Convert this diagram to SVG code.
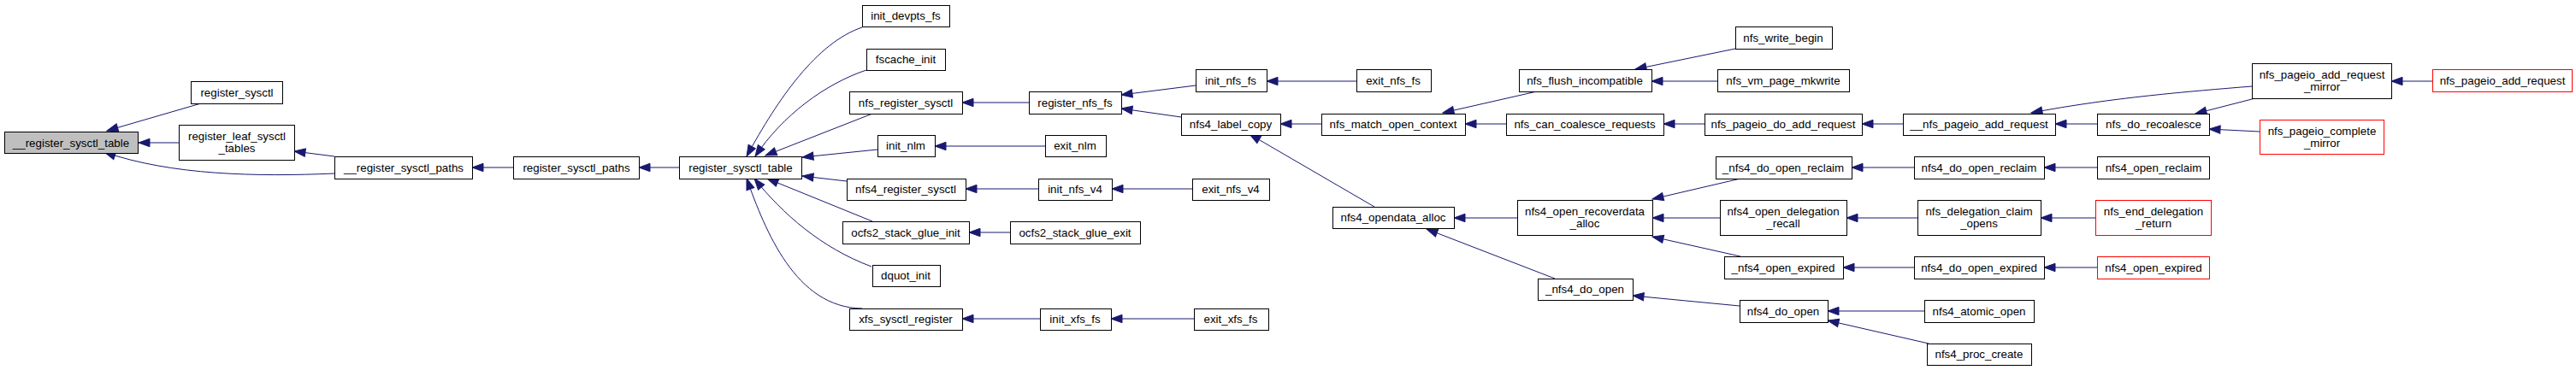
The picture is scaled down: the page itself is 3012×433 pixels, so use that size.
<svg xmlns="http://www.w3.org/2000/svg" width="3012" height="433" viewBox="0 0 3012 433">
<style>
.node rect{fill:#ffffff;stroke:#000000;stroke-width:1}
.node.red rect{stroke:#ff0000}
.node.root rect{fill:#bfbfbf}
.node text{font-family:"Liberation Sans",Arial,sans-serif;font-size:13.33px;text-anchor:middle;fill:#000000}
#edges path{fill:none;stroke:#191970;stroke-width:1;marker-end:url(#ah)}
</style>
<defs>
<marker id="ah" markerUnits="userSpaceOnUse" markerWidth="14" markerHeight="10" refX="13" refY="5" orient="auto" overflow="visible">
<path d="M0,0.3 L13,5 L0,9.7 Z" fill="#191970" stroke="#191970" stroke-width="1"/>
</marker>
</defs>
<rect width="3012" height="433" fill="#ffffff"/>
<g id="edges">
<path d="M235,121 L125,153"/>
<path d="M209,167 L162,167"/>
<path d="M391,203 C300,207 200,205 122,178"/>
<path d="M391,183 L344,177"/>
<path d="M600,196 L552,196"/>
<path d="M794,196 L747,196"/>
<path d="M1008,32 C955,50 910,115 873,183"/>
<path d="M1013,82 C965,98 915,135 883,183"/>
<path d="M1020,133 L895,182"/>
<path d="M1026,175 L938,184"/>
<path d="M990,212 L938,206"/>
<path d="M1020,259 L897,209"/>
<path d="M1019,312 C960,290 915,250 882,209"/>
<path d="M1008,361 C930,360 895,270 873,209"/>
<path d="M1203,120 L1125,120"/>
<path d="M1398,100 L1311,111"/>
<path d="M1381,137 L1311,127"/>
<path d="M1222,171 L1093,171"/>
<path d="M1214,221 L1129,221"/>
<path d="M1394,221 L1300,221"/>
<path d="M1181,272 L1133,272"/>
<path d="M1216,373 L1125,373"/>
<path d="M1396,373 L1299,373"/>
<path d="M1586,95 L1481,95"/>
<path d="M1545,145 L1497,145"/>
<path d="M1607,242 L1461,157"/>
<path d="M1797,107 L1687,132"/>
<path d="M1761,145 L1713,145"/>
<path d="M1774,255 L1700,255"/>
<path d="M1818,326 L1668,268"/>
<path d="M2029,57 L1912,81"/>
<path d="M2008,95 L1931,95"/>
<path d="M1993,145 L1945,145"/>
<path d="M2035,209 L1932,233"/>
<path d="M2011,255 L1932,255"/>
<path d="M2035,300 L1932,277"/>
<path d="M2034,358 L1909,346"/>
<path d="M2225,145 L2177,145"/>
<path d="M2633,101 C2560,107 2470,114 2375,132"/>
<path d="M2452,145 L2403,145"/>
<path d="M2238,196 L2165,196"/>
<path d="M2242,255 L2159,255"/>
<path d="M2238,313 L2155,313"/>
<path d="M2250,364 L2137,364"/>
<path d="M2255,402 L2137,375"/>
<path d="M2637,115 L2567,133"/>
<path d="M2642,154 L2583,151"/>
<path d="M2452,196 L2390,196"/>
<path d="M2450,255 L2386,255"/>
<path d="M2452,313 L2390,313"/>
<path d="M2844,95 L2796,95"/>
</g>
<g id="n_register_sysctl_table_root" class="node root"><rect x="5.5" y="154.5" width="156" height="25"/><text x="83" y="171.5">__register_sysctl_table</text></g>
<g id="n_register_sysctl" class="node"><rect x="223.5" y="95.5" width="107" height="26"/><text x="277" y="112.5">register_sysctl</text></g>
<g id="n_register_leaf_sysctl_tables" class="node"><rect x="209.5" y="146.5" width="135" height="41"/><text x="277" y="164">register_leaf_sysctl</text><text x="277" y="178">_tables</text></g>
<g id="n___register_sysctl_paths" class="node"><rect x="391.5" y="183.5" width="161" height="26"/><text x="472" y="200.5">__register_sysctl_paths</text></g>
<g id="n_register_sysctl_paths" class="node"><rect x="600.5" y="183.5" width="147" height="26"/><text x="674" y="200.5">register_sysctl_paths</text></g>
<g id="n_register_sysctl_table" class="node"><rect x="794.5" y="183.5" width="143" height="26"/><text x="866" y="200.5">register_sysctl_table</text></g>
<g id="n_init_devpts_fs" class="node"><rect x="1008.5" y="6.5" width="102" height="25"/><text x="1059" y="23">init_devpts_fs</text></g>
<g id="n_fscache_init" class="node"><rect x="1013.5" y="57.5" width="92" height="25"/><text x="1059" y="74">fscache_init</text></g>
<g id="n_nfs_register_sysctl" class="node"><rect x="993.5" y="107.5" width="132" height="26"/><text x="1059" y="124.5">nfs_register_sysctl</text></g>
<g id="n_init_nlm" class="node"><rect x="1026.5" y="158.5" width="67" height="25"/><text x="1059" y="175">init_nlm</text></g>
<g id="n_nfs4_register_sysctl" class="node"><rect x="990.5" y="209.5" width="139" height="25"/><text x="1059" y="226">nfs4_register_sysctl</text></g>
<g id="n_ocfs2_stack_glue_init" class="node"><rect x="985.5" y="259.5" width="148" height="26"/><text x="1059" y="276.5">ocfs2_stack_glue_init</text></g>
<g id="n_dquot_init" class="node"><rect x="1020.5" y="310.5" width="79" height="25"/><text x="1059" y="327">dquot_init</text></g>
<g id="n_xfs_sysctl_register" class="node"><rect x="993.5" y="361.5" width="132" height="25"/><text x="1059" y="378">xfs_sysctl_register</text></g>
<g id="n_register_nfs_fs" class="node"><rect x="1203.5" y="107.5" width="108" height="26"/><text x="1257" y="124.5">register_nfs_fs</text></g>
<g id="n_exit_nlm" class="node"><rect x="1222.5" y="158.5" width="71" height="25"/><text x="1257" y="175">exit_nlm</text></g>
<g id="n_init_nfs_v4" class="node"><rect x="1214.5" y="209.5" width="86" height="25"/><text x="1257" y="226">init_nfs_v4</text></g>
<g id="n_ocfs2_stack_glue_exit" class="node"><rect x="1181.5" y="259.5" width="152" height="26"/><text x="1257" y="276.5">ocfs2_stack_glue_exit</text></g>
<g id="n_init_xfs_fs" class="node"><rect x="1216.5" y="361.5" width="83" height="25"/><text x="1257" y="378">init_xfs_fs</text></g>
<g id="n_init_nfs_fs" class="node"><rect x="1398.5" y="81.5" width="83" height="26"/><text x="1439" y="98.5">init_nfs_fs</text></g>
<g id="n_nfs4_label_copy" class="node"><rect x="1381.5" y="133.5" width="116" height="25"/><text x="1439" y="150">nfs4_label_copy</text></g>
<g id="n_exit_nfs_v4" class="node"><rect x="1394.5" y="209.5" width="90" height="25"/><text x="1439" y="226">exit_nfs_v4</text></g>
<g id="n_exit_xfs_fs" class="node"><rect x="1396.5" y="361.5" width="87" height="25"/><text x="1439" y="378">exit_xfs_fs</text></g>
<g id="n_exit_nfs_fs" class="node"><rect x="1586.5" y="81.5" width="87" height="26"/><text x="1629" y="98.5">exit_nfs_fs</text></g>
<g id="n_nfs_match_open_context" class="node"><rect x="1545.5" y="133.5" width="168" height="25"/><text x="1629" y="150">nfs_match_open_context</text></g>
<g id="n_nfs4_opendata_alloc" class="node"><rect x="1558.5" y="242.5" width="142" height="25"/><text x="1629" y="259">nfs4_opendata_alloc</text></g>
<g id="n_nfs_flush_incompatible" class="node"><rect x="1776.5" y="81.5" width="155" height="26"/><text x="1853" y="98.5">nfs_flush_incompatible</text></g>
<g id="n_nfs_can_coalesce_requests" class="node"><rect x="1761.5" y="133.5" width="184" height="25"/><text x="1853" y="150">nfs_can_coalesce_requests</text></g>
<g id="n_nfs4_open_recoverdata_alloc" class="node"><rect x="1774.5" y="234.5" width="158" height="41"/><text x="1853" y="252">nfs4_open_recoverdata</text><text x="1853" y="266">_alloc</text></g>
<g id="n__nfs4_do_open" class="node"><rect x="1798.5" y="326.5" width="111" height="25"/><text x="1853" y="343">_nfs4_do_open</text></g>
<g id="n_nfs_write_begin" class="node"><rect x="2029.5" y="31.5" width="113" height="26"/><text x="2085" y="48.5">nfs_write_begin</text></g>
<g id="n_nfs_vm_page_mkwrite" class="node"><rect x="2008.5" y="81.5" width="154" height="26"/><text x="2085" y="98.5">nfs_vm_page_mkwrite</text></g>
<g id="n_nfs_pageio_do_add_request" class="node"><rect x="1993.5" y="133.5" width="184" height="25"/><text x="2085" y="150">nfs_pageio_do_add_request</text></g>
<g id="n__nfs4_do_open_reclaim" class="node"><rect x="2006.5" y="183.5" width="159" height="26"/><text x="2085" y="200.5">_nfs4_do_open_reclaim</text></g>
<g id="n_nfs4_open_delegation_recall" class="node"><rect x="2011.5" y="234.5" width="148" height="41"/><text x="2085" y="252">nfs4_open_delegation</text><text x="2085" y="266">_recall</text></g>
<g id="n__nfs4_open_expired" class="node"><rect x="2016.5" y="300.5" width="139" height="26"/><text x="2085" y="317.5">_nfs4_open_expired</text></g>
<g id="n_nfs4_do_open" class="node"><rect x="2034.5" y="351.5" width="103" height="26"/><text x="2085" y="368.5">nfs4_do_open</text></g>
<g id="n___nfs_pageio_add_request" class="node"><rect x="2225.5" y="133.5" width="178" height="25"/><text x="2314" y="150">__nfs_pageio_add_request</text></g>
<g id="n_nfs4_do_open_reclaim" class="node"><rect x="2238.5" y="183.5" width="152" height="26"/><text x="2314" y="200.5">nfs4_do_open_reclaim</text></g>
<g id="n_nfs_delegation_claim_opens" class="node"><rect x="2242.5" y="234.5" width="144" height="41"/><text x="2314" y="252">nfs_delegation_claim</text><text x="2314" y="266">_opens</text></g>
<g id="n_nfs4_do_open_expired" class="node"><rect x="2238.5" y="300.5" width="152" height="26"/><text x="2314" y="317.5">nfs4_do_open_expired</text></g>
<g id="n_nfs4_atomic_open" class="node"><rect x="2250.5" y="351.5" width="128" height="26"/><text x="2314" y="368.5">nfs4_atomic_open</text></g>
<g id="n_nfs4_proc_create" class="node"><rect x="2253.5" y="402.5" width="122" height="25"/><text x="2314" y="419">nfs4_proc_create</text></g>
<g id="n_nfs_do_recoalesce" class="node"><rect x="2452.5" y="133.5" width="131" height="25"/><text x="2518" y="150">nfs_do_recoalesce</text></g>
<g id="n_nfs4_open_reclaim" class="node"><rect x="2452.5" y="183.5" width="131" height="26"/><text x="2518" y="200.5">nfs4_open_reclaim</text></g>
<g id="n_nfs_end_delegation_return" class="node red"><rect x="2450.5" y="234.5" width="135" height="41"/><text x="2518" y="252">nfs_end_delegation</text><text x="2518" y="266">_return</text></g>
<g id="n_nfs4_open_expired" class="node red"><rect x="2452.5" y="300.5" width="131" height="26"/><text x="2518" y="317.5">nfs4_open_expired</text></g>
<g id="n_nfs_pageio_add_request_mirror" class="node"><rect x="2633.5" y="74.5" width="163" height="41"/><text x="2715" y="92">nfs_pageio_add_request</text><text x="2715" y="106">_mirror</text></g>
<g id="n_nfs_pageio_complete_mirror" class="node red"><rect x="2642.5" y="140.5" width="145" height="40"/><text x="2715" y="157.5">nfs_pageio_complete</text><text x="2715" y="171.5">_mirror</text></g>
<g id="n_nfs_pageio_add_request" class="node red"><rect x="2844.5" y="81.5" width="163" height="26"/><text x="2926" y="98.5">nfs_pageio_add_request</text></g>
</svg>
